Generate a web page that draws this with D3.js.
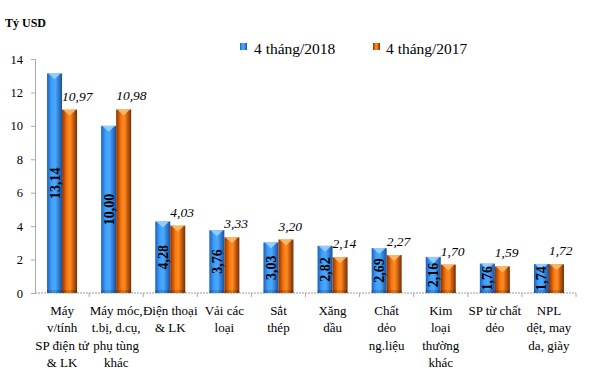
<!DOCTYPE html>
<html><head><meta charset="utf-8">
<script src="https://cdn.jsdelivr.net/npm/d3@7"></script>
<style>
svg text, svg tspan { font-family: 'Liberation Serif', 'Times New Roman', Tinos, serif !important; }
</style>
</head><body style="margin:0;background:#fff"><svg id="c" width="592" height="374" style="display:block" font-family="Liberation Serif"></svg>
<script>
const categories = [
  ["Máy","v/tính","SP điện tử","& LK"],
  ["Máy móc,","t.bị, d.cụ,","phụ tùng","khác"],
  ["Điện thoại","& LK"],
  ["Vải các","loại"],
  ["Sắt","thép"],
  ["Xăng","dầu"],
  ["Chất","dẻo","ng.liệu"],
  ["Kim","loại","thường","khác"],
  ["SP từ chất","dẻo"],
  ["NPL","dệt, may","da, giày"]
];
const series2018 = [13.14,10.00,4.28,3.76,3.03,2.82,2.69,2.16,1.76,1.74];
const series2017 = [10.97,10.98,4.03,3.33,3.20,2.14,2.27,1.70,1.59,1.72];
const seriesNames = ["4 tháng/2018","4 tháng/2017"];
const yTicks = [0,2,4,6,8,10,12,14];
const unitLabel = "Tỷ USD";

(function(){
const svg = d3.select("#c");
const mLeft = 35, mRight = 576, mTop = 59, mBottom = 293;
const idx = d3.range(categories.length);
const x = d3.scaleBand().domain(idx).range([mLeft,mRight]).paddingInner(0).paddingOuter(0);
const y = d3.scaleLinear().domain([0,14]).range([mBottom,mTop]);
const fmt = v => v.toFixed(2).replace(".", ",");
const T = (sel) => sel.append("text").attr("fill","#000");

const defs = svg.append("defs");
function grad(id, stops){
  const g = defs.append("linearGradient").attr("id",id).attr("x1","0").attr("x2","1").attr("y1","0").attr("y2","0");
  stops.forEach(s=>g.append("stop").attr("offset",s[0]).attr("stop-color",s[1]));
}
grad("gb",[[0,"#1f5fb8"],[0.3,"#3ea0ff"],[0.55,"#4aa8ff"],[1,"#1a4f9e"]]);
grad("go",[[0,"#8a3300"],[0.35,"#ff7a10"],[0.55,"#ff8a20"],[1,"#7a2a00"]]);

T(svg).attr("x",5).attr("y",26.5).attr("font-size",12).attr("font-weight","bold").text(unitLabel);

const yAxis = d3.axisLeft(y).tickValues(yTicks).tickSize(4).tickFormat(d=>d);
const gy = svg.append("g").attr("transform",`translate(${mLeft},0)`).call(yAxis);
gy.attr("font-family", null);
gy.select(".domain").attr("stroke","#aaa");
gy.selectAll(".tick line").attr("stroke","#aaa");
gy.selectAll(".tick text").attr("font-size",12.5).attr("fill","#000").attr("dx",-5);

const gx = svg.append("g");
gx.append("line").attr("x1",mLeft).attr("x2",mRight).attr("y1",mBottom).attr("y2",mBottom)
  .attr("stroke","#999").attr("stroke-dasharray","2,1");
idx.forEach(i=>{
  const xx = x(i);
  if(i>0) gx.append("line").attr("x1",xx).attr("x2",xx).attr("y1",mBottom).attr("y2",mBottom+4).attr("stroke","#aaa");
});
gx.append("line").attr("x1",mRight).attr("x2",mRight).attr("y1",mBottom).attr("y2",mBottom+4).attr("stroke","#aaa");

const bw = 15;
function drawBar(xc, v, fill, light){
  const y0 = y(v), h = mBottom - y0;
  svg.append("rect").attr("x",xc-bw/2).attr("y",y0).attr("width",bw).attr("height",h).attr("fill",fill);
  svg.append("path").attr("d",`M${xc-bw/2+1},${y0}L${xc+bw/2-1},${y0}L${xc},${y0+6}Z`).attr("fill",light).attr("opacity",0.85);
  svg.append("rect").attr("x",xc-bw/2).attr("y",mBottom-3).attr("width",bw).attr("height",3).attr("fill","#000").attr("opacity",0.15);
}

idx.forEach(i=>{
  const c = x(i) + x.bandwidth()/2;
  const xb = c - bw/2, xo = c + bw/2;
  drawBar(xb, series2018[i], "url(#gb)", "#9fd4ff");
  drawBar(xo, series2017[i], "url(#go)", "#ffc070");
  const ym = (y(series2018[i]) + mBottom)/2;
  T(svg).attr("transform",`translate(${xb+5},${ym}) rotate(-90)`)
    .attr("text-anchor","middle").attr("font-size",14).attr("font-weight","bold").text(fmt(series2018[i]));
  T(svg).attr("x",xo-bw/2).attr("y",y(series2017[i])-9)
    .attr("text-anchor","start").attr("font-size",13.5).attr("font-style","italic").text(fmt(series2017[i]));
  const t = T(svg).attr("x",c).attr("y",315).attr("text-anchor","middle").attr("font-size",13);
  categories[i].forEach((ln,j)=>t.append("tspan").attr("x",c).attr("dy",j?17.3:0).text(ln));
});

const lg = [[240,254,"url(#gb)",seriesNames[0]],[373,386,"url(#go)",seriesNames[1]]];
lg.forEach(l=>{
  svg.append("rect").attr("x",l[0]).attr("y",43).attr("width",7).attr("height",7).attr("fill",l[2]);
  T(svg).attr("x",l[1]).attr("y",54).attr("font-size",15.5).text(l[3]);
});
})();
</script></body></html>
